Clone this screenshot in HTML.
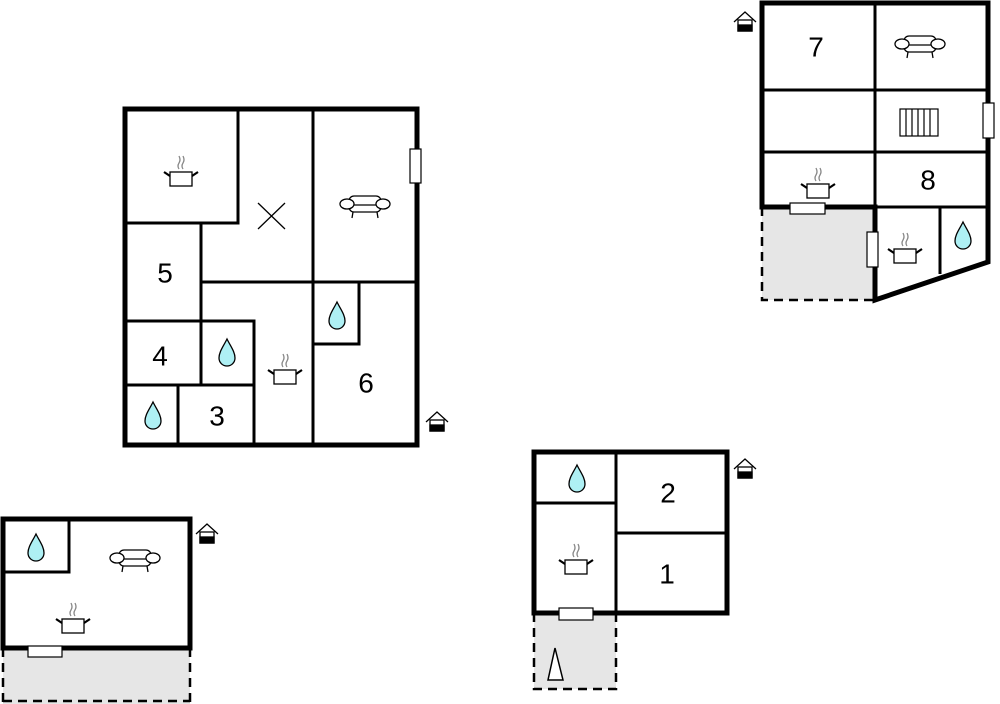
<!DOCTYPE html>
<html><head><meta charset="utf-8"><style>
html,body{margin:0;padding:0;background:#fff;width:1000px;height:704px;overflow:hidden}
svg{display:block}
text{font-family:"Liberation Sans",Arial,sans-serif;font-size:28px;fill:#000;text-anchor:middle;dominant-baseline:central}
</style></head><body>
<svg width="1000" height="704" viewBox="0 0 1000 704" xmlns="http://www.w3.org/2000/svg">
<defs>
<g id="pot" fill="none" stroke-width="1.3">
 <rect x="-11" y="-5" width="22" height="14" fill="#fff" stroke="#000"/>
 <path d="M-11,-1 L-17,-5 M11,-1 L17,-5" stroke="#000" stroke-width="2.2"/>
 <path d="M-2,-8 q-2,-3 0,-6 q2,-3 0,-7 M2,-8 q-2,-3 0,-6 q2,-3 0,-7" stroke="#888"/>
</g>
<g id="sofa" fill="#fff" stroke="#000" stroke-width="1.3">
 <rect x="-16" y="-9" width="32" height="16" rx="5"/>
 <line x1="-16" y1="0" x2="16" y2="0"/>
 <ellipse cx="-18" cy="-1" rx="7" ry="5"/>
 <ellipse cx="18" cy="-1" rx="7" ry="5"/>
 <path d="M-12,7 l-1,6 M12,7 l1,6" fill="none"/>
</g>
<g id="drop"><path d="M0,-14 C4,-6 8,-1 8,5 A8,8 0 0 1 -8,5 C-8,-1 -4,-6 0,-14Z" fill="#aef0f4" stroke="#000" stroke-width="1.3"/></g>
<g id="house" stroke="#000" fill="#fff" stroke-width="1.3">
 <path d="M-11,0 L0,-10 L11,0" fill="none"/>
 <rect x="-7" y="-2" width="14" height="11"/>
 <rect x="-7" y="3" width="14" height="6" fill="#000"/>
</g>
</defs>

<!-- Main house -->
<g stroke="#000" fill="none">
 <rect x="125" y="109" width="292" height="336" stroke-width="5"/>
 <g stroke-width="3">
  <path d="M238,109 V223 H125"/>
  <path d="M313,109 V445"/>
  <path d="M201,223 V385"/>
  <path d="M201,282 H417"/>
  <path d="M125,321 H254 V445"/>
  <path d="M125,385 H254"/>
  <path d="M178,385 V445"/>
  <path d="M313,344 H359 V282"/>
 </g>
 <path d="M258,203 L285,229 M285,203 L258,229" stroke-width="1.3"/>
</g>
<rect x="410" y="149" width="11" height="34" fill="#fff" stroke="#000" stroke-width="1.2"/>
<use href="#pot" x="181" y="177"/>
<use href="#sofa" x="365" y="205"/>
<use href="#drop" x="337" y="316"/>
<use href="#drop" x="227" y="353"/>
<use href="#drop" x="153" y="416"/>
<use href="#pot" x="285" y="375"/>
<text x="165" y="273">5</text>
<text x="160" y="356">4</text>
<text x="217" y="416">3</text>
<text x="366" y="383">6</text>
<use href="#house" x="437" y="422"/>

<!-- Top right -->
<rect x="762" y="207" width="113" height="93" fill="#e6e6e6"/>
<path d="M762,207 V300 H875" fill="none" stroke="#000" stroke-width="2.5" stroke-dasharray="9,6"/>
<g stroke="#000" fill="none">
 <path d="M762,207 V3 H988 V262 L875,300 V207 Z" stroke-width="5"/>
 <g stroke-width="3">
  <path d="M875,3 V207"/>
  <path d="M762,90 H988"/>
  <path d="M762,152 H988"/>
  <path d="M875,207 H988"/>
  <path d="M940,207 V274"/>
 </g>
</g>
<rect x="790" y="203" width="35" height="11" fill="#fff" stroke="#000" stroke-width="1.2"/>
<rect x="867" y="232" width="11" height="35" fill="#fff" stroke="#000" stroke-width="1.2"/>
<rect x="983" y="103" width="11" height="35" fill="#fff" stroke="#000" stroke-width="1.2"/>
<g stroke="#000" stroke-width="1.2" fill="#fff">
 <rect x="900" y="109" width="38" height="27"/>
 <path d="M906,109 V136 M912,109 V136 M918,109 V136 M924,109 V136 M930,109 V136" fill="none"/>
</g>
<text x="816" y="47">7</text>
<text x="928" y="180">8</text>
<use href="#sofa" x="920" y="45"/>
<use href="#pot" x="818" y="189"/>
<use href="#pot" x="905" y="254"/>
<use href="#drop" x="963" y="236"/>
<use href="#house" x="745" y="22"/>

<!-- Bottom left -->
<rect x="3" y="648" width="187" height="56" fill="#e6e6e6"/>
<path d="M3,648 V704 M190,648 V704 M3,701 H190" fill="none" stroke="#000" stroke-width="2.5" stroke-dasharray="9,6"/>
<g stroke="#000" fill="none">
 <rect x="3" y="519" width="187" height="129" stroke-width="5"/>
 <path d="M69,519 V572 H3" stroke-width="3"/>
</g>
<rect x="28" y="646" width="34" height="11" fill="#fff" stroke="#000" stroke-width="1.2"/>
<use href="#drop" x="36" y="548"/>
<use href="#sofa" x="135" y="559"/>
<use href="#pot" x="73" y="624"/>
<use href="#house" x="207" y="534"/>

<!-- Bottom middle -->
<rect x="534" y="613" width="82" height="76" fill="#e6e6e6"/>
<path d="M534,613 V689 H616 V613" fill="none" stroke="#000" stroke-width="2.5" stroke-dasharray="9,6"/>
<g stroke="#000" fill="none">
 <rect x="534" y="452" width="193" height="161" stroke-width="5"/>
 <g stroke-width="3">
  <path d="M616,452 V613"/>
  <path d="M534,503 H616"/>
  <path d="M616,533 H727"/>
 </g>
</g>
<rect x="559" y="608" width="34" height="12" fill="#fff" stroke="#000" stroke-width="1.2"/>
<path d="M555,648 L548,680 L563,680 Z" fill="#fff" stroke="#000" stroke-width="1.5"/>
<use href="#drop" x="577" y="479"/>
<use href="#pot" x="576" y="565"/>
<text x="668" y="493">2</text>
<text x="667" y="574">1</text>
<use href="#house" x="745" y="469"/>
</svg>
</body></html>
